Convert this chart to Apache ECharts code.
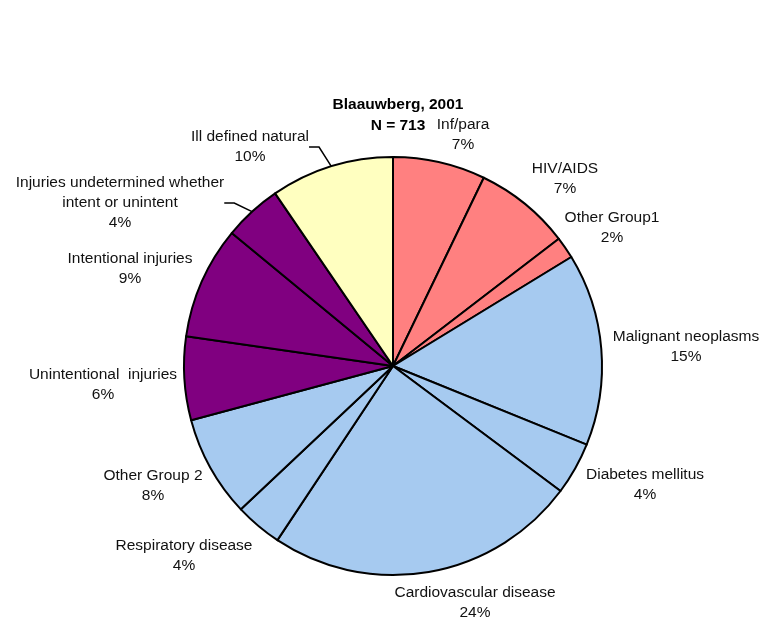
<!DOCTYPE html>
<html>
<head>
<meta charset="utf-8">
<script src="https://cdn.jsdelivr.net/npm/echarts@6/dist/echarts.min.js"></script>
<style>
html,body{margin:0;padding:0;background:#fff;}
#chart{width:764px;height:628px;}
</style>
</head>
<body>
<div id="chart"></div>
<script>
// Data
var categories = [
  "Inf/para", "HIV/AIDS", "Other Group1", "Malignant neoplasms",
  "Diabetes mellitus", "Cardiovascular disease", "Respiratory disease",
  "Other Group 2", "Unintentional  injuries", "Intentional injuries",
  "Injuries undetermined whether\nintent or unintent", "Ill defined natural"
];
var counts = [51, 53, 12, 106, 29, 172, 26, 56, 46, 62, 32, 68];
var colors = ["#FF8080", "#FF8080", "#FF8080", "#A6CAF0", "#A6CAF0", "#A6CAF0",
              "#A6CAF0", "#A6CAF0", "#800080", "#800080", "#800080", "#FFFFC0"];
var withLeader = [false, false, false, false, false, false, false, false, false, false, true, true];
// label centers (layout only)
var labelPos = [
  [463, 135], [565, 179], [612, 228], [686, 347], [645, 485], [475, 603],
  [184, 556], [153, 486], [103, 385], [130, 269], [120, 203], [250, 147]
];

var total = counts.reduce(function (a, b) { return a + b; }, 0);

var chart = echarts.init(document.getElementById('chart'), null, { renderer: 'canvas' });
var fontFam = '"Liberation Sans", Arial, Helvetica, sans-serif';

var data = categories.map(function (c, i) {
  return {
    name: c,
    value: counts[i],
    itemStyle: { color: colors[i] },
    labelLine: { show: withLeader[i] }
  };
});

chart.setOption({
  animation: false,
  backgroundColor: '#ffffff',
  title: {
    text: 'Blaauwberg, 2001\nN = 713',
    left: 393,
    textAlign: 'center',
    top: 89,
    textStyle: { fontFamily: fontFam, fontSize: 15.5, fontWeight: 'bold', color: '#000', lineHeight: 21 }
  },
  series: [{
    type: 'pie',
    center: [393, 366],
    radius: 209,
    startAngle: 90,
    clockwise: true,
    avoidLabelOverlap: false,
    itemStyle: { borderColor: '#000', borderWidth: 2 },
    label: {
      show: true,
      position: 'outside',
      fontFamily: fontFam,
      fontSize: 15.5,
      lineHeight: 20,
      color: '#111',
      align: 'center',
      formatter: function (p) {
        return p.name + '\n' + Math.round(p.value / total * 100) + '%';
      }
    },
    labelLine: {
      show: false,
      length: 10,
      length2: 10,
      lineStyle: { color: '#000', width: 1.5 }
    },
    labelLayout: function (params) {
      var pos = labelPos[params.dataIndex];
      return { x: pos[0], y: pos[1], align: 'center', verticalAlign: 'middle' };
    },
    data: data
  }]
});
</script>
</body>
</html>
